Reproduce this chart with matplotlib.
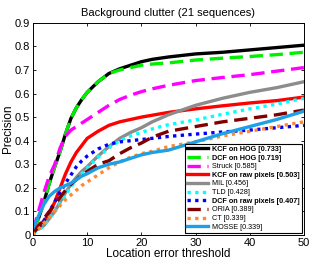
import matplotlib
matplotlib.use("Agg")
import matplotlib.pyplot as plt

plt.rcParams['font.family'] = ['Liberation Sans', 'DejaVu Sans']

# location error thresholds (pixels)
thresholds = [0, 1, 2, 3, 4, 5, 6, 7, 8, 9, 10, 12, 14, 16, 18, 20, 22, 25, 30, 35, 40, 45, 50]

kcf_hog = [0.02, 0.07, 0.14, 0.22, 0.29, 0.355, 0.43, 0.495, 0.54, 0.575, 0.605, 0.65, 0.685,
           0.705, 0.72, 0.735, 0.745, 0.755, 0.768, 0.775, 0.785, 0.795, 0.805]
dcf_hog = [0.02, 0.07, 0.14, 0.22, 0.29, 0.355, 0.43, 0.495, 0.54, 0.575, 0.605, 0.65, 0.685,
           0.70, 0.71, 0.72, 0.725, 0.73, 0.742, 0.75, 0.757, 0.765, 0.775]
struck = [0.02, 0.10, 0.18, 0.25, 0.30, 0.37, 0.42, 0.445, 0.46, 0.475, 0.49, 0.52, 0.55,
          0.575, 0.593, 0.608, 0.62, 0.635, 0.655, 0.668, 0.68, 0.695, 0.71]
kcf_raw = [0.02, 0.04, 0.06, 0.09, 0.14, 0.20, 0.26, 0.31, 0.35, 0.38, 0.41, 0.44, 0.465,
           0.48, 0.49, 0.50, 0.508, 0.52, 0.535, 0.548, 0.56, 0.57, 0.585]
mil = [0.015, 0.025, 0.04, 0.07, 0.10, 0.14, 0.18, 0.215, 0.245, 0.27, 0.29, 0.335, 0.375,
       0.41, 0.435, 0.455, 0.48, 0.51, 0.55, 0.58, 0.605, 0.625, 0.65]
tld = [0.01, 0.02, 0.04, 0.07, 0.10, 0.135, 0.17, 0.205, 0.235, 0.26, 0.285, 0.33, 0.37,
       0.40, 0.42, 0.435, 0.45, 0.468, 0.488, 0.512, 0.535, 0.555, 0.58]
dcf_raw = [0.01, 0.03, 0.06, 0.10, 0.14, 0.18, 0.22, 0.255, 0.29, 0.315, 0.335, 0.365, 0.385,
           0.395, 0.40, 0.405, 0.41, 0.418, 0.428, 0.437, 0.445, 0.455, 0.465]
oria = [0.01, 0.035, 0.07, 0.10, 0.13, 0.16, 0.19, 0.215, 0.235, 0.255, 0.27, 0.30, 0.315,
        0.345, 0.37, 0.39, 0.415, 0.44, 0.46, 0.48, 0.495, 0.51, 0.53]
ct = [0.0, 0.025, 0.05, 0.075, 0.10, 0.125, 0.15, 0.17, 0.19, 0.21, 0.225, 0.255, 0.285,
      0.31, 0.33, 0.345, 0.355, 0.375, 0.395, 0.42, 0.44, 0.46, 0.48]
mosse = [0.03, 0.08, 0.13, 0.165, 0.185, 0.20, 0.21, 0.22, 0.235, 0.25, 0.26, 0.285, 0.30,
         0.31, 0.325, 0.34, 0.35, 0.36, 0.395, 0.43, 0.46, 0.49, 0.525]

labels = ["KCF on HOG [0.733]", "DCF on HOG [0.719]", "Struck [0.585]",
          "KCF on raw pixels [0.503]", "MIL [0.456]", "TLD [0.428]",
          "DCF on raw pixels [0.407]", "ORIA [0.389]", "CT [0.339]", "MOSSE [0.339]"]
bold = [True, True, False, True, False, False, True, False, False, False]

series = [kcf_hog, dcf_hog, struck, kcf_raw, mil, tld, dcf_raw, oria, ct, mosse]
colors = ["black", "#00ee00", "#ff00ff", "#ff0000", "#8c8c8c", "#00ffff",
          "#0000ff", "#800000", "#ff8833", "#1ca0e6"]
dash = (0, (4, 2))
dot = (0, (1, 1.3))
styles = ["-", dash, dash, "-", "-", dot, dot, dash, dot, "-"]

fig = plt.figure(figsize=(3.12, 2.62), dpi=100)
ax = fig.add_axes([0.106, 0.103, 0.868, 0.81])

for y, c, ls, lab in zip(series, colors, styles, labels):
    ax.plot(thresholds, y, color=c, linestyle=ls, linewidth=2.4, label=lab)

ax.set_xlim(0, 50)
ax.set_ylim(0, 0.9)
ax.set_xticks([0, 10, 20, 30, 40, 50])
ax.set_yticks([0, 0.1, 0.2, 0.3, 0.4, 0.5, 0.6, 0.7, 0.8, 0.9],
              ["0", "0.1", "0.2", "0.3", "0.4", "0.5", "0.6", "0.7", "0.8", "0.9"])
ax.tick_params(direction="in", top=True, right=True, labelsize=8, length=2.5, width=0.6, pad=2)
for s in ax.spines.values():
    s.set_linewidth(0.7)

ax.set_title("Background clutter (21 sequences)", fontsize=8, pad=5)
ax.set_xlabel("Location error threshold", fontsize=8.5, labelpad=0)
ax.set_ylabel("Precision", fontsize=8.5, labelpad=1)

leg = ax.legend(loc="lower right", fontsize=5.2, handlelength=2.9, handletextpad=0.5,
                labelspacing=0.22, borderpad=0.3, borderaxespad=0.3, fancybox=False,
                framealpha=1)
leg.get_frame().set_edgecolor("black")
leg.get_frame().set_linewidth(0.8)
for t, b in zip(leg.get_texts(), bold):
    if b:
        t.set_fontweight("bold")

fig.savefig("out.png", dpi=100)
